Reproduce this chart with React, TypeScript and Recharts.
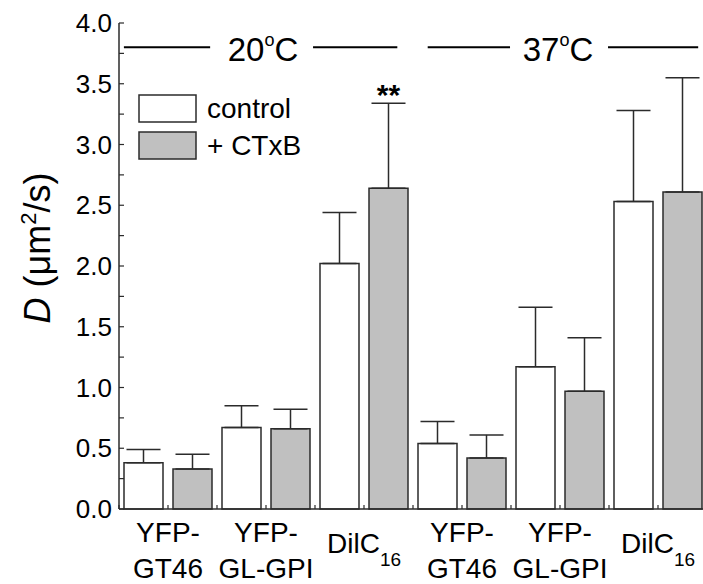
import { BarChart, Bar, XAxis, YAxis, ErrorBar, ReferenceLine, ReferenceDot, LabelList } from "recharts";

// categories: "\n" splits lines, "_" marks a subscript
const categories = ["YFP-\nGT46", "YFP-\nGL-GPI", "DilC_16", "YFP-\nGT46", "YFP-\nGL-GPI", "DilC_16"];
const control = [0.38, 0.67, 2.02, 0.54, 1.17, 2.53];
const controlErr = [0.11, 0.18, 0.42, 0.18, 0.49, 0.75];
const ctxb = [0.33, 0.66, 2.64, 0.42, 0.97, 2.61];
const ctxbErr = [0.12, 0.16, 0.7, 0.19, 0.44, 0.94];
const significance = ["", "", "**", "", "", ""];

const yTicks = [0, 0.25, 0.5, 0.75, 1, 1.25, 1.5, 1.75, 2, 2.25, 2.5, 2.75, 3, 3.25, 3.5, 3.75, 4];

// temperature headers, x in category-index units (0 = centre of first group)
const tempY = 3.8;
const tempSegments = [[-0.45, 0.43], [1.48, 2.34], [2.65, 3.49], [4.49, 5.41]];
const tempLabels = [{ x: 0.97, t: "20" }, { x: 3.98, t: "37" }];

const data = categories.map((name, i) => ({
  name,
  idx: i,
  control: control[i],
  controlErr: [0, controlErr[i]],
  ctxb: ctxb[i],
  ctxbErr: [0, ctxbErr[i]],
  sig: significance[i],
}));

const FONT = '"Liberation Sans", Arial, sans-serif';
const INK = "#2b2b2b";

const CategoryTick = ({ x, y, payload }: any) => {
  const v: string = payload.value;
  const half = payload.offset || 0;
  // small inward ticks at group edges and between the two bars
  const marks = half ? [x - half, x] : [];
  let label;
  if (v.includes("_")) {
    const [base, sub] = v.split("_");
    label = (
      <text x={x} y={y + 44} textAnchor="middle" fontSize={28} fontFamily={FONT} fill="#000">
        <tspan>{base}</tspan>
        <tspan fontSize={19} dy={13}>{sub}</tspan>
      </text>
    );
  } else {
    const lines = v.split("\n");
    label = (
      <text textAnchor="middle" fontSize={28} fontFamily={FONT} fill="#000">
        {lines.map((l, i) => (
          <tspan key={i} x={x} y={y + 33 + i * 36}>{l}</tspan>
        ))}
      </text>
    );
  }
  return (
    <g>
      {marks.map((mx, i) => (
        <line key={i} x1={mx} x2={mx} y1={y} y2={y - 4} stroke={INK} strokeWidth={1.2} />
      ))}
      {label}
    </g>
  );
};

const YLabel = () => {
  const cx = 50;
  const cy = 248;
  return (
    <text x={cx} y={cy} transform={`rotate(-90, ${cx}, ${cy})`} textAnchor="middle" fontSize={36} fontFamily={FONT} fill="#000">
      <tspan fontStyle="italic">D</tspan>
      <tspan> (μm</tspan>
      <tspan fontSize={22} dy={-14}>2</tspan>
      <tspan dy={14}>/s)</tspan>
    </text>
  );
};

const tempLabel = (t: string) => ({ viewBox }: any) => (
  <text x={viewBox.x} y={viewBox.y + 14} textAnchor="middle" fontSize={33} fontFamily={FONT} fill="#000">
    <tspan>{t}</tspan>
    <tspan fontSize={18} dy={-15}>o</tspan>
    <tspan dy={15}>C</tspan>
  </text>
);

const SigLabel = (props: any) => {
  const { x, y, width, height, value, index } = props;
  if (!value) return null;
  const perUnit = height / ctxb[index];
  const top = y - ctxbErr[index] * perUnit;
  return (
    <text x={x + width / 2} y={top + 2} textAnchor="middle" fontSize={30} fontWeight="bold" fontFamily={FONT} fill="#000">
      {value}
    </text>
  );
};

const LegendBox = () => (
  <svg width={200} height={80} style={{ position: "absolute", left: 138, top: 94 }}>
    <rect x={1} y={1} width={57} height={27} fill="#fff" stroke={INK} strokeWidth={1.5} />
    <rect x={1} y={38} width={57} height={27} fill="#c0c0c0" stroke={INK} strokeWidth={1.5} />
    <text x={69} y={24} fontSize={28} fontFamily={FONT} fill="#000">control</text>
    <text x={69} y={61} fontSize={28} fontFamily={FONT} fill="#000">+ CTxB</text>
  </svg>
);

export default function App() {
  return (
    <div style={{ position: "absolute", left: 0, top: 0, width: 703, height: 584, overflow: "hidden", background: "#fff" }}>
      <BarChart
        width={712}
        height={584}
        data={data}
        margin={{ top: 23, right: 5, bottom: 0, left: 0 }}
        barSize={39}
        barGap={10}
      >
        <XAxis
          dataKey="name"
          tick={<CategoryTick />}
          tickLine={false}
          tickSize={0}
          tickMargin={0}
          axisLine={{ stroke: INK, strokeWidth: 1.5 }}
          height={75}
          interval={0}
        />
        <XAxis
          xAxisId="n"
          dataKey="idx"
          type="number"
          domain={[-0.5, 5.5]}
          allowDataOverflow
          orientation="top"
          height={0}
          tick={false}
          axisLine={{ stroke: INK, strokeWidth: 1.5 }}
        />
        <YAxis
          width={119}
          domain={[0, 4]}
          ticks={yTicks}
          interval={0}
          tickSize={-5}
          tickMargin={12}
          tickFormatter={(v: number) => (Math.round(v * 100) % 50 === 0 ? v.toFixed(1) : "")}
          tick={{ fontSize: 26, fontFamily: FONT, fill: "#000" }}
          tickLine={{ stroke: INK, strokeWidth: 1.2 }}
          axisLine={{ stroke: INK, strokeWidth: 1.5 }}
          label={{ content: <YLabel /> }}
        />
        {tempSegments.map((s, i) => (
          <ReferenceLine
            key={i}
            xAxisId="n"
            segment={[{ x: s[0], y: tempY }, { x: s[1], y: tempY }]}
            stroke="#000"
            strokeWidth={2}
            ifOverflow="visible"
          />
        ))}
        {tempLabels.map((l, i) => (
          <ReferenceDot key={i} xAxisId="n" x={l.x} y={tempY} r={0} stroke="none" fill="none" label={{ content: tempLabel(l.t) }} />
        ))}
        <Bar dataKey="control" fill="#fff" stroke={INK} strokeWidth={1.5} isAnimationActive={false}>
          <ErrorBar dataKey="controlErr" width={17} stroke={INK} strokeWidth={1.5} />
        </Bar>
        <Bar dataKey="ctxb" fill="#c0c0c0" stroke={INK} strokeWidth={1.5} isAnimationActive={false}>
          <ErrorBar dataKey="ctxbErr" width={17} stroke={INK} strokeWidth={1.5} />
          <LabelList dataKey="sig" content={<SigLabel />} />
        </Bar>
      </BarChart>
      <LegendBox />
    </div>
  );
}
